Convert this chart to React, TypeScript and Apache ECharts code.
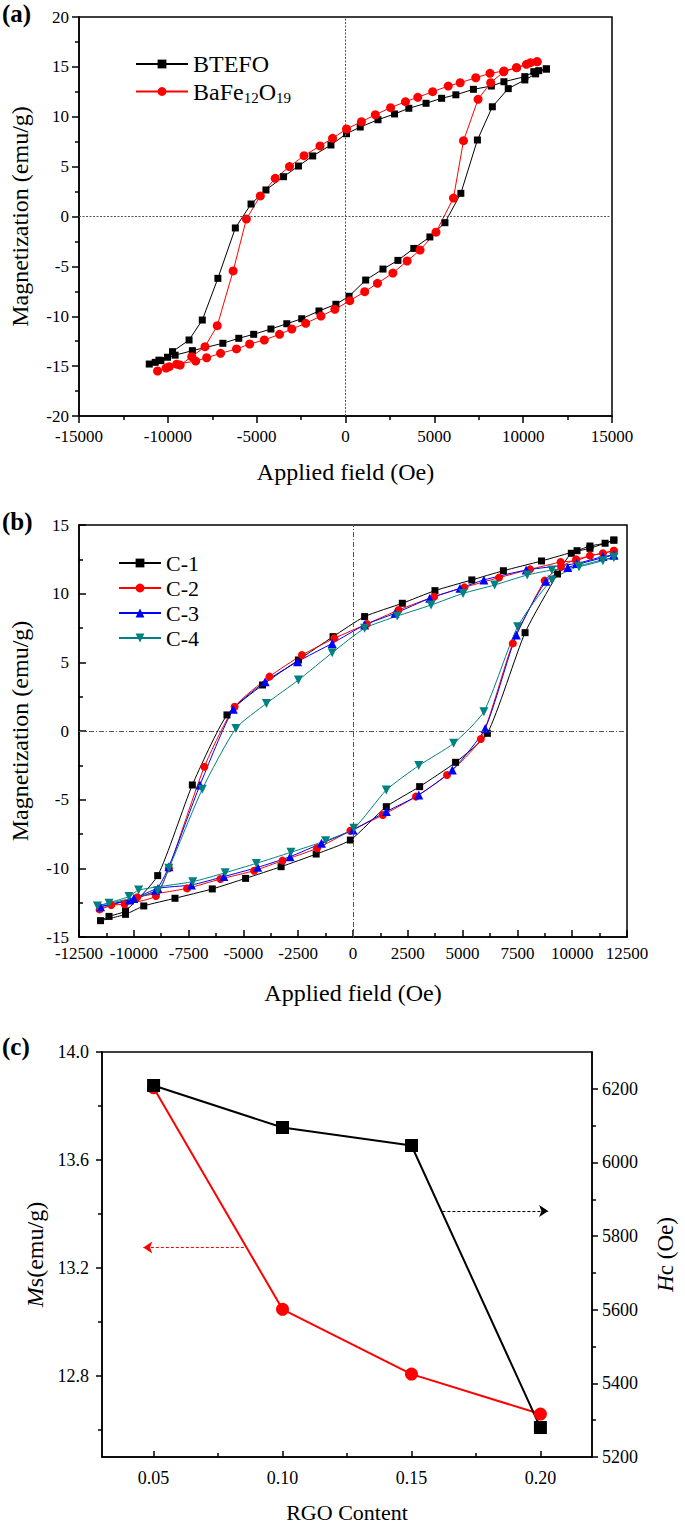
import React, { useEffect, useRef } from 'react';
import * as echarts from 'echarts';

const FONT = 'Liberation Serif';

// ---------- Panel (a): hysteresis loops [field (Oe), magnetization (emu/g)] ----------
const btefoLoop: number[][] = [
  [11306, 14.79], [10877, 14.62], [10598, 14.52], [10093, 14.02], [8918, 13.51], [8209, 13.08],
  [7200, 12.75], [6212, 12.2], [5410, 11.85], [4533, 11.35], [3563, 10.85], [2761, 10.28],
  [1829, 9.7], [830, 8.97], [56, 8.3], [-820, 7.17], [-1847, 6.07], [-2647, 5.06], [-3487, 3.99],
  [-4478, 2.66], [-5317, 1.25], [-6200, -1.15], [-7183, -6.2], [-8060, -10.38], [-8806, -12.38],
  [-9739, -13.55], [-10020, -14.11], [-10392, -14.45], [-10709, -14.62], [-11045, -14.79],
  [-10500, -14.4], [-9590, -13.9], [-8619, -13.45], [-6903, -12.71], [-6007, -12.21], [-5168, -11.81],
  [-4198, -11.28], [-3302, -10.75], [-2463, -10.25], [-1492, -9.47], [-541, -8.8], [200, -8.0],
  [1136, -6.37], [2110, -5.27], [2950, -4.4], [3844, -3.2], [4750, -2.05], [5597, -0.62],
  [6492, 2.32], [7425, 7.67], [8265, 11.0], [9160, 12.82], [10093, 13.69], [10700, 14.3], [11306, 14.79],
];
const bafeLoop: number[][] = [
  [10784, 15.52], [10411, 15.42], [10187, 15.26], [9627, 14.92], [8918, 14.59], [8134, 14.35],
  [7332, 13.91], [6455, 13.41], [5783, 13.08], [4907, 12.51], [4068, 11.95], [3376, 11.51],
  [2537, 10.91], [1679, 10.2], [896, 9.5], [56, 8.77], [-728, 7.84], [-1436, 7.07], [-2333, 6.1],
  [-3153, 5.0], [-3954, 3.83], [-4795, 2.06], [-5578, -0.25], [-6324, -5.46], [-7219, -10.95],
  [-7908, -13.05], [-8656, -14.05], [-9305, -14.89], [-9920, -15.06], [-10578, -15.49],
  [-10100, -15.2], [-9500, -14.8], [-8432, -14.49], [-7815, -14.16], [-7031, -13.72], [-6135, -13.28],
  [-5392, -12.78], [-4570, -12.38], [-3711, -11.81], [-3022, -11.28], [-2239, -10.71], [-1380, -9.98],
  [-597, -9.31], [242, -8.44], [1080, -7.54], [1800, -6.7], [2667, -5.67], [3470, -4.46],
  [4198, -3.36], [5093, -1.57], [6077, 1.85], [6642, 7.6], [7462, 11.75], [8172, 13.41],
  [8900, 14.5], [9627, 14.92], [10784, 15.52],
];

// ---------- Panel (b): hysteresis loops C-1 .. C-4 ----------
const c1Loop: number[][] = [
  [11900, 13.9], [11500, 13.67], [10810, 13.47], [10220, 13.13], [8600, 12.38], [6860, 11.67],
  [5420, 11.0], [3740, 10.22], [2250, 9.3], [530, 8.33], [-910, 6.87], [-2490, 5.17], [-4130, 3.35],
  [-5750, 1.17], [-7330, -3.93], [-8910, -10.53], [-10380, -13.1], [-11130, -13.5], [-11520, -13.81],
  [-10380, -13.35], [-9545, -12.74], [-8120, -12.18], [-6420, -11.5], [-4900, -10.73], [-3280, -9.88],
  [-1680, -8.96], [-120, -7.94], [1520, -5.51], [3040, -4.05], [4680, -2.28], [6130, -0.17],
  [7850, 7.16], [9330, 11.43], [9960, 12.94], [10810, 13.3], [11900, 13.9],
];
const c2Loop: number[][] = [
  [11900, 13.13], [11400, 12.94], [10810, 12.77], [10180, 12.4], [9470, 12.3], [8080, 11.77],
  [6660, 11.17], [5080, 10.46], [3700, 9.78], [2080, 8.81], [630, 7.79], [-850, 6.75], [-2330, 5.53],
  [-3810, 3.96], [-5400, 1.77], [-6780, -2.6], [-8400, -10.0], [-8990, -12.01], [-10420, -12.62],
  [-11030, -12.67], [-11560, -12.99], [-9840, -12.1], [-7570, -11.46], [-6050, -10.78],
  [-4510, -10.17], [-3220, -9.44], [-1640, -8.54], [-120, -7.26], [1360, -6.12], [2870, -4.78],
  [4290, -3.2], [5830, -0.58], [7290, 6.38], [8740, 10.95], [9490, 11.97], [10180, 12.5], [11900, 13.13],
];
const c3Loop: number[][] = [
  [11900, 12.82], [11400, 12.7], [10200, 12.2], [7900, 11.72], [5970, 11.0], [4880, 10.39],
  [3500, 9.66], [1920, 8.57], [530, 7.72], [-950, 6.38], [-2530, 5.05], [-4010, 3.59], [-5460, 1.58],
  [-6980, -3.93], [-8400, -9.88], [-9000, -11.6], [-10200, -12.3], [-11520, -12.79],
  [-10000, -12.2], [-8900, -11.46], [-7370, -11.21], [-5890, -10.6], [-4350, -9.93], [-2870, -9.15],
  [-1440, -8.18], [0, -7.21], [1520, -5.87], [3000, -4.66], [4530, -2.84], [6030, 0.19],
  [7450, 6.99], [8800, 10.9], [9800, 11.9], [11900, 12.82],
];
const c4Loop: number[][] = [
  [11900, 12.65], [11400, 12.4], [10320, 11.97], [9070, 11.72], [7950, 11.36], [6460, 10.63],
  [5020, 10.02], [3560, 9.17], [2020, 8.37], [530, 7.48], [-950, 5.7], [-2490, 3.71], [-3950, 2.01],
  [-5340, 0.19], [-6880, -4.25], [-8400, -10.0], [-8910, -11.63], [-11130, -12.55], [-11660, -12.74],
  [-10220, -12.06], [-9780, -11.58], [-7310, -10.97], [-5830, -10.32], [-4410, -9.64], [-2830, -8.83],
  [-1250, -7.99], [40, -7.09], [1520, -4.3], [3000, -2.52], [4590, -0.9], [5970, 1.41],
  [7510, 7.6], [9070, 11.0], [10300, 12.0], [11900, 12.65],
];

// ---------- Panel (c): Ms and Hc versus RGO content ----------
const rgoContent = [0.05, 0.1, 0.15, 0.2];
const msValues = [13.868, 13.047, 12.807, 12.659];
const hcValues = [6209, 6095, 6046, 5280];

const cXLabels = [0.05, 0.1, 0.15, 0.2];
const cXMinor = [0.075, 0.125, 0.175];
const cMsLabels = [12.8, 13.2, 13.6, 14.0];
const cMsMinor = [12.6, 13.0, 13.4, 13.8];
const cHcLabels = [5200, 5400, 5600, 5800, 6000, 6200];
const cHcMinor = [5300, 5500, 5700, 5900, 6100];

const BLACK = '#000000';
const RED = '#ff0000';
const BLUE = '#0000ff';
const TEAL = '#008080';

const plain = (v: number) => String(v);

function baseAxis(fontSize: number, margin: number, inside: boolean) {
  return {
    type: 'value' as const,
    axisLine: { show: true, onZero: false, lineStyle: { color: BLACK, width: 1.5 } },
    axisTick: { show: true, inside, length: 7, lineStyle: { color: BLACK, width: 1.5 } },
    minorTick: { show: true, splitNumber: 2, length: 4, lineStyle: { color: BLACK, width: 1.5 } },
    splitLine: { show: false },
    minorSplitLine: { show: false },
    axisLabel: { color: BLACK, fontFamily: FONT, fontSize, margin, formatter: plain },
    nameTextStyle: { color: BLACK, fontFamily: FONT, fontSize: 24 },
  };
}

const zeroLines = (dash: number[]) => ({
  silent: true,
  symbol: 'none',
  label: { show: false },
  animation: false,
  lineStyle: { color: '#555555', type: dash, width: 1 },
  data: [{ xAxis: 0 }, { yAxis: 0 }],
});

export default function App() {
  const ref = useRef<HTMLDivElement>(null);

  useEffect(() => {
    if (!ref.current) return;
    const chart = echarts.init(ref.current, undefined, { renderer: 'svg' });

    const legendRich = (big: number) => ({
      n: { fontSize: big, fontFamily: FONT, color: BLACK, lineHeight: 28, verticalAlign: 'middle' },
      s: { fontSize: 15, fontFamily: FONT, color: BLACK, lineHeight: 16, padding: [12, 0, 0, 0], verticalAlign: 'middle' },
    });

    const option: any = {
      animation: false,
      backgroundColor: '#ffffff',
      grid: [
        { left: 76, top: 17, width: 536, height: 399, show: true, borderColor: BLACK, borderWidth: 1.5 },
        { left: 75, top: 525, width: 552, height: 412, show: true, borderColor: BLACK, borderWidth: 1.5 },
        { left: 102, top: 1052, width: 504, height: 410, show: true, borderColor: BLACK, borderWidth: 1.5 },
      ],
      graphic: [
        { type: 'text', left: 2, top: 1, style: { text: '(a)', fontFamily: FONT, fontSize: 25, fontWeight: 'bold', fill: BLACK } },
        { type: 'text', left: 2, top: 509, style: { text: '(b)', fontFamily: FONT, fontSize: 25, fontWeight: 'bold', fill: BLACK } },
        { type: 'text', left: 2, top: 1034, style: { text: '(c)', fontFamily: FONT, fontSize: 25, fontWeight: 'bold', fill: BLACK } },
      ],
      legend: [
        {
          orient: 'vertical', left: 130, top: 47, itemWidth: 52, itemHeight: 11, itemGap: 2,
          data: ['BTEFO', 'BaFe12O19'],
          formatter: (name: string) => (name === 'BaFe12O19' ? '{n|BaFe}{s|12}{n|O}{s|19}' : `{n|${name}}`),
          textStyle: { fontFamily: FONT, rich: legendRich(24) },
        },
        {
          orient: 'vertical', left: 113, top: 547, itemWidth: 42, itemHeight: 11, itemGap: 3,
          data: ['C-1', 'C-2', 'C-3', 'C-4'],
          formatter: (name: string) => `{n|${name}}`,
          textStyle: { fontFamily: FONT, rich: legendRich(22) },
        },
      ],
      xAxis: [
        {
          ...baseAxis(17, 12, false), gridIndex: 0, min: -15000, max: 15000, interval: 5000,
          name: 'Applied field (Oe)', nameLocation: 'middle', nameGap: 44,
        },
        {
          ...baseAxis(17, 8, true), gridIndex: 1, min: -12500, max: 12500, interval: 2500,
          name: 'Applied field (Oe)', nameLocation: 'middle', nameGap: 44,
        },
        {
          ...baseAxis(18, 12, true), gridIndex: 2, min: 0.03, max: 0.22,
          minorTick: { show: false },
          axisTick: { show: true, inside: true, length: 6, customValues: cXLabels, lineStyle: { color: BLACK, width: 1.5 } },
          axisLabel: { color: BLACK, fontFamily: FONT, fontSize: 18, margin: 12, customValues: cXLabels, formatter: (v: number) => v.toFixed(2) },
          name: 'RGO Content', nameLocation: 'middle', nameGap: 44,
          nameTextStyle: { color: BLACK, fontFamily: FONT, fontSize: 22 },
        },
        {
          type: 'value', gridIndex: 2, min: 0.03, max: 0.22, position: 'bottom',
          axisLine: { show: false, onZero: false },
          axisLabel: { show: false },
          splitLine: { show: false },
          axisTick: { show: true, inside: true, length: 4, customValues: cXMinor, lineStyle: { color: BLACK, width: 1.5 } },
        },
      ],
      yAxis: [
        {
          ...baseAxis(17, 10, false), gridIndex: 0, min: -20, max: 20, interval: 5,
          name: 'Magnetization (emu/g)', nameLocation: 'middle', nameGap: 47, nameRotate: 90,
        },
        {
          ...baseAxis(17, 10, true), gridIndex: 1, min: -15, max: 15, interval: 5,
          name: 'Magnetization (emu/g)', nameLocation: 'middle', nameGap: 47, nameRotate: 90,
        },
        {
          ...baseAxis(18, 13, false), gridIndex: 2, min: 12.5, max: 14.0, position: 'left',
          minorTick: { show: false },
          axisTick: { show: true, inside: false, length: 6, customValues: cMsLabels, lineStyle: { color: BLACK, width: 1.5 } },
          axisLabel: { color: BLACK, fontFamily: FONT, fontSize: 18, margin: 13, customValues: cMsLabels, formatter: (v: number) => v.toFixed(1) },
          name: '{i|M}{n|s(emu/g)}', nameLocation: 'middle', nameGap: 52, nameRotate: 90,
          nameTextStyle: {
            fontFamily: FONT,
            rich: {
              i: { fontFamily: FONT, fontSize: 24, fontStyle: 'italic', color: BLACK },
              n: { fontFamily: FONT, fontSize: 24, color: BLACK },
            },
          },
        },
        {
          ...baseAxis(18, 10, false), gridIndex: 2, min: 5200, max: 6300, position: 'right',
          minorTick: { show: false },
          axisTick: { show: true, inside: false, length: 6, customValues: cHcLabels, lineStyle: { color: BLACK, width: 1.5 } },
          axisLabel: { color: BLACK, fontFamily: FONT, fontSize: 18, margin: 10, customValues: cHcLabels, formatter: plain },
          name: '{i|H}{n|c (Oe)}', nameLocation: 'middle', nameGap: 62, nameRotate: 90,
          nameTextStyle: {
            fontFamily: FONT,
            rich: {
              i: { fontFamily: FONT, fontSize: 23, fontStyle: 'italic', color: BLACK },
              n: { fontFamily: FONT, fontSize: 23, color: BLACK },
            },
          },
        },
        {
          type: 'value', gridIndex: 2, min: 12.5, max: 14.0, position: 'left',
          axisLine: { show: false, onZero: false }, axisLabel: { show: false }, splitLine: { show: false },
          axisTick: { show: true, inside: false, length: 4, customValues: cMsMinor, lineStyle: { color: BLACK, width: 1.5 } },
        },
        {
          type: 'value', gridIndex: 2, min: 5200, max: 6300, position: 'right',
          axisLine: { show: false, onZero: false }, axisLabel: { show: false }, splitLine: { show: false },
          axisTick: { show: true, inside: false, length: 4, customValues: cHcMinor, lineStyle: { color: BLACK, width: 1.5 } },
        },
      ],
      series: [
        {
          type: 'line', name: 'BTEFO', xAxisIndex: 0, yAxisIndex: 0, data: btefoLoop,
          symbol: 'rect', symbolSize: 7, lineStyle: { color: BLACK, width: 1 }, itemStyle: { color: BLACK },
          markLine: zeroLines([2, 1.5]),
        },
        {
          type: 'line', name: 'BaFe12O19', xAxisIndex: 0, yAxisIndex: 0, data: bafeLoop,
          symbol: 'circle', symbolSize: 9, lineStyle: { color: RED, width: 1 }, itemStyle: { color: RED },
        },
        {
          type: 'line', name: 'C-1', xAxisIndex: 1, yAxisIndex: 1, data: c1Loop, smooth: 0.2,
          symbol: 'rect', symbolSize: 7, lineStyle: { color: BLACK, width: 1 }, itemStyle: { color: BLACK },
          markLine: zeroLines([5, 2, 1, 2]),
        },
        {
          type: 'line', name: 'C-2', xAxisIndex: 1, yAxisIndex: 1, data: c2Loop, smooth: 0.2,
          symbol: 'circle', symbolSize: 8, lineStyle: { color: RED, width: 1 }, itemStyle: { color: RED },
        },
        {
          type: 'line', name: 'C-3', xAxisIndex: 1, yAxisIndex: 1, data: c3Loop, smooth: 0.2,
          symbol: 'triangle', symbolSize: 9, lineStyle: { color: BLUE, width: 1 }, itemStyle: { color: BLUE },
        },
        {
          type: 'line', name: 'C-4', xAxisIndex: 1, yAxisIndex: 1, data: c4Loop, smooth: 0.2,
          symbol: 'triangle', symbolRotate: 180, symbolSize: 9, lineStyle: { color: TEAL, width: 1 }, itemStyle: { color: TEAL },
        },
        {
          type: 'line', name: 'Ms', xAxisIndex: 2, yAxisIndex: 2,
          data: rgoContent.map((x, i) => [x, msValues[i]]),
          symbol: 'circle', symbolSize: 13, lineStyle: { color: RED, width: 2 }, itemStyle: { color: RED },
          markLine: {
            silent: true, animation: false, symbol: ['none', 'arrow'], symbolSize: 9,
            label: { show: false },
            lineStyle: { color: RED, type: [3, 2], width: 1 },
            itemStyle: { color: RED },
            data: [[{ coord: [0.085, 13.276] }, { coord: [0.046, 13.276] }]],
          },
        },
        {
          type: 'line', name: 'Hc', xAxisIndex: 2, yAxisIndex: 3,
          data: rgoContent.map((x, i) => [x, hcValues[i]]),
          symbol: 'rect', symbolSize: 13, lineStyle: { color: BLACK, width: 2 }, itemStyle: { color: BLACK },
          markLine: {
            silent: true, animation: false, symbol: ['none', 'arrow'], symbolSize: 9,
            label: { show: false },
            lineStyle: { color: BLACK, type: [3, 2], width: 1 },
            itemStyle: { color: BLACK },
            data: [[{ coord: [0.162, 5868] }, { coord: [0.203, 5868] }]],
          },
        },
      ],
    };

    chart.setOption(option);
    return () => chart.dispose();
  }, []);

  return (
    <div
      ref={ref}
      style={{ position: 'absolute', left: 0, top: 0, width: 685, height: 1524, background: '#fff' }}
    />
  );
}
